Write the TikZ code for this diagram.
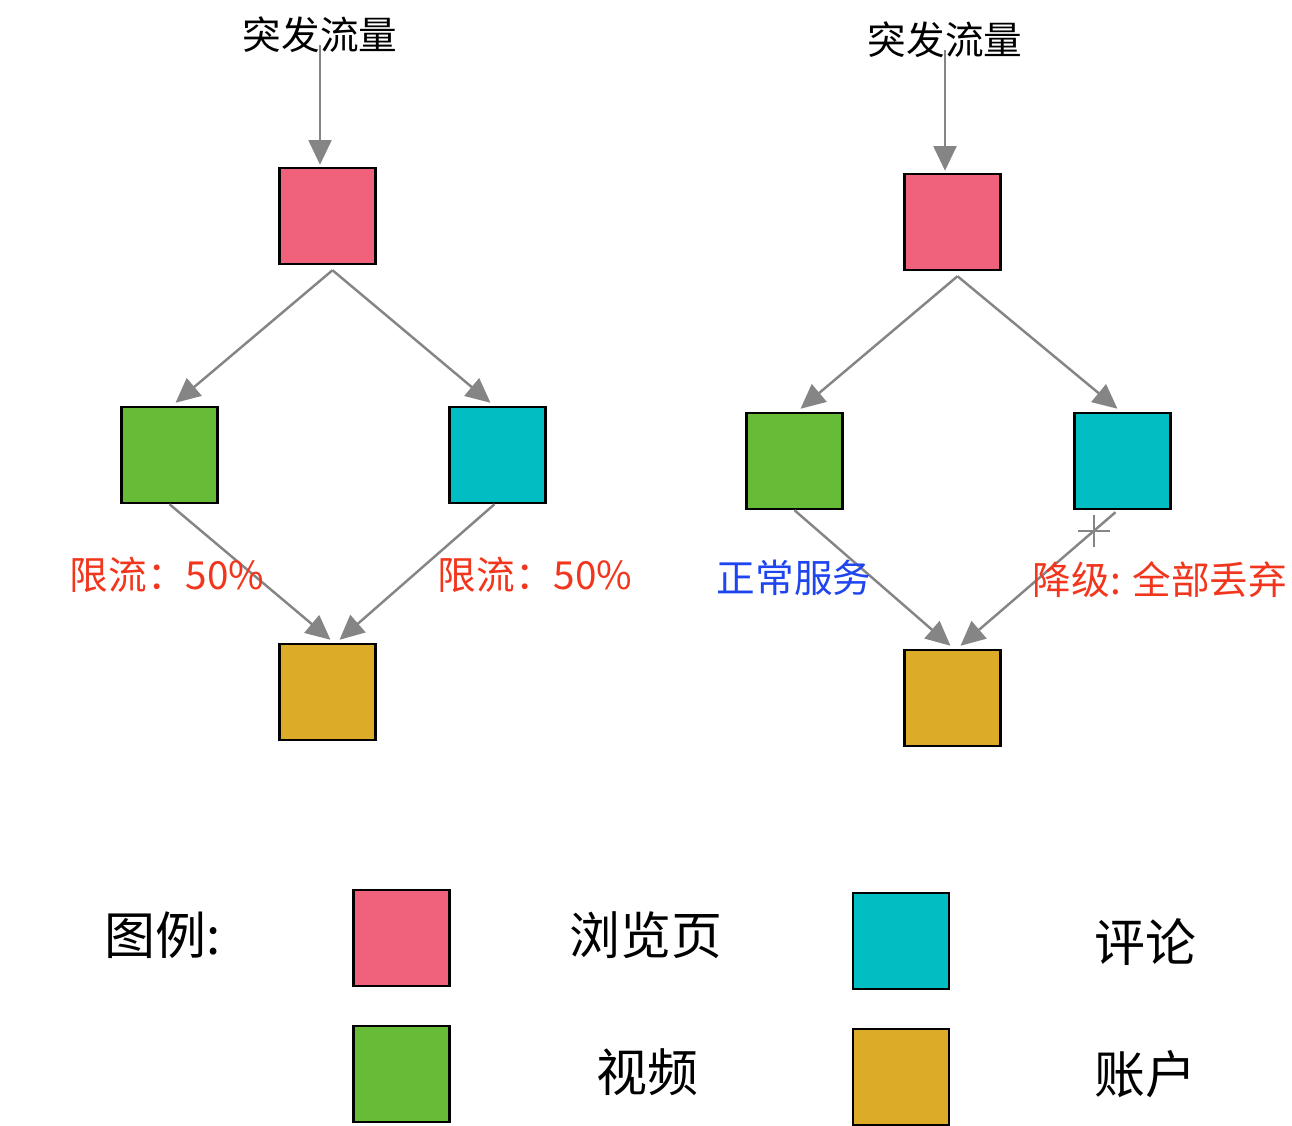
\documentclass[tikz,border=0pt]{standalone}
\usepackage{fontspec}
\setmainfont{Noto Sans CJK SC}
\usepackage{xcolor}
\usetikzlibrary{positioning,arrows.meta}

\definecolor{pagepink}{HTML}{F0627C}
\definecolor{videogreen}{HTML}{67BC37}
\definecolor{commentteal}{HTML}{00BEC2}
\definecolor{accountgold}{HTML}{DCAB28}
\definecolor{flowgray}{HTML}{858585}
\definecolor{notered}{HTML}{F2361E}
\definecolor{noteblue}{HTML}{1F45F0}

\begin{document}
\begin{tikzpicture}[x=0.02cm, y=-0.02cm,
    box/.style={draw, line width=1.4pt, minimum size=1.92cm, inner sep=0pt},
    flow/.style={draw=flowgray, line width=1.4pt, -{Triangle[length=14pt,width=13pt]}},
    title/.style={font=\fontsize{22}{26}\selectfont},
    note/.style={font=\fontsize{22}{26}\selectfont},
    legend/.style={font=\fontsize{29}{34}\selectfont}]
\useasboundingbox (0,0) rectangle (1292,1126);

% left: rate limiting
\node[title] (l_title) at (320,35) {突发流量};
\node[box, fill=pagepink] (l_page) at (327.5,216) {};
\node[box, fill=videogreen] (l_video) at (169.5,455) {};
\node[box, fill=commentteal] (l_comment) at (497.5,455) {};
\node[box, fill=accountgold] (l_account) at (327.5,692) {};

\draw[flow] ([shift={(0,10)}]l_title.center) -- ([shift={(0,-2)}]l_title.center |- l_page.north);
\draw[flow] ([shift={(5,5)}]l_page.south) -- ([shift={(6,-3)}]l_video.north);
\draw[flow] ([shift={(5,5)}]l_page.south) -- ([shift={(-7,-3)}]l_comment.north);
\draw[flow] (l_video.south) -- ([shift={(3,-3)}]l_account.north);
\draw[flow] ([shift={(-3,0)}]l_comment.south) -- ([shift={(12,-3)}]l_account.north);

\node[note, text=notered] (l_limit_a) at (167,575) {限流：50\%};
\node[note, text=notered] (l_limit_b) at (535,575) {限流：50\%};

% right: degradation
\node[title] (r_title) at (945,40) {突发流量};
\node[box, fill=pagepink] (r_page) at (952.5,222) {};
\node[box, fill=videogreen] (r_video) at (794.5,461) {};
\node[box, fill=commentteal] (r_comment) at (1122.5,461) {};
\node[box, fill=accountgold] (r_account) at (952.5,698) {};

\draw[flow] ([shift={(0,10)}]r_title.center) -- ([shift={(0,-2)}]r_title.center |- r_page.north);
\draw[flow] ([shift={(5,5)}]r_page.south) -- ([shift={(6,-3)}]r_video.north);
\draw[flow] ([shift={(5,5)}]r_page.south) -- ([shift={(-5,-3)}]r_comment.north);
\draw[flow] (r_video.south) -- ([shift={(-2,-3)}]r_account.north);
\draw[flow] ([shift={(-7,2)}]r_comment.south) -- coordinate[pos=0.14] (r_cut) ([shift={(8,-3)}]r_account.north);
\draw[flowgray, line width=1.2pt] ([shift={(-16,0)}]r_cut) -- ([shift={(16,0)}]r_cut)
    ([shift={(0,-16)}]r_cut) -- ([shift={(0,16)}]r_cut);

\node[note, text=noteblue] (r_normal) at (794,578) {正常服务};
\node[note, text=notered] (r_degrade) at (1160,580) {降级: 全部丢弃};

% legend
\node[legend] (key) at (163,935) {图例:};
\node[box, fill=pagepink] (k_page) at (401.5,938) {};
\node[legend] (k_page_txt) at (646,935) {浏览页};
\node[box, fill=commentteal] (k_comment) at (901,941) {};
\node[legend] (k_comment_txt) at (1145,942) {评论};
\node[box, fill=videogreen] (k_video) at (401.5,1074) {};
\node[legend] (k_video_txt) at (647,1072) {视频};
\node[box, fill=accountgold] (k_account) at (901,1077) {};
\node[legend] (k_account_txt) at (1145,1074) {账户};

\end{tikzpicture}
\end{document}
